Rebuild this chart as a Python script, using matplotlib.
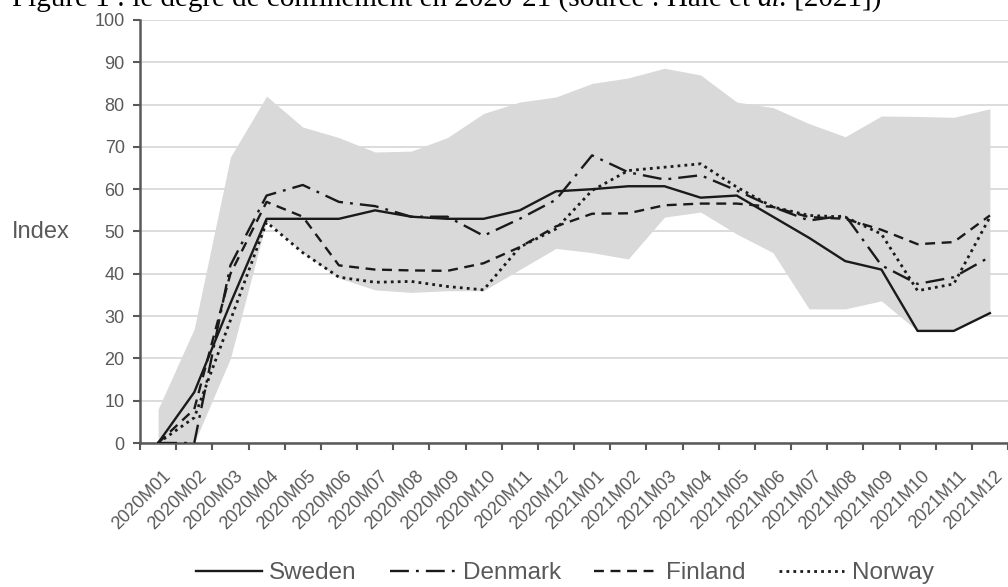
import matplotlib
matplotlib.use("Agg")
import matplotlib.pyplot as plt
from matplotlib.transforms import offset_copy

months = ["2020M01", "2020M02", "2020M03", "2020M04", "2020M05", "2020M06",
          "2020M07", "2020M08", "2020M09", "2020M10", "2020M11", "2020M12",
          "2021M01", "2021M02", "2021M03", "2021M04", "2021M05", "2021M06",
          "2021M07", "2021M08", "2021M09", "2021M10", "2021M11", "2021M12"]

sweden = [0, 12, 33, 53, 53, 53, 55, 53.5, 53, 53, 55, 59.5,
          60, 60.7, 60.7, 58, 58.5, 53.5, 48.5, 43, 41, 26.5, 26.5, 30.7]
denmark = [0, 0, 42, 58.5, 61, 57, 56, 53.5, 53.5, 49, 53, 57.5,
           68, 64, 62.3, 63.3, 59.7, 55.8, 52.6, 53.8, 42, 37.6, 39.2, 44]
finland = [0, 8, 40, 57, 53.5, 42, 41, 40.8, 40.7, 42.5, 46.3, 51.2,
           54.2, 54.3, 56.2, 56.6, 56.6, 55.8, 53.4, 53, 50.4, 47, 47.5, 53.8]
norway = [0, 6, 29, 52.2, 45, 39.2, 38, 38.2, 37, 36.2, 46.3, 50.6,
          59.7, 64.4, 65.2, 66, 60.5, 55.8, 53.8, 53.4, 49.4, 36, 37.6, 53.4]

# grey band: range across the other countries
band_hi = [8, 27, 67.6, 82, 74.7, 72.2, 68.8, 69, 72.2, 77.9, 80.6, 81.8,
           85, 86.3, 88.6, 87, 80.6, 79.3, 75.5, 72.4, 77.3, 77.2, 77, 79]
band_lo = [0, 0, 20, 52.5, 45, 39, 36.2, 35.6, 36, 36, 41, 46,
           45, 43.5, 53.4, 54.6, 49.4, 45, 31.7, 31.7, 33.6, 26.5, 26.5, 30.6]

TXT = "#595959"
LINE = "#1a1a1a"
plt.rcParams["font.family"] = ["Liberation Sans", "DejaVu Sans"]

fig = plt.figure(figsize=(10.08, 5.87), dpi=100)
ax = fig.add_axes([140 / 1008, 1 - 443 / 587, 868 / 1008, 423 / 587])

x = list(range(len(months)))
ax.fill_between(x, band_lo, band_hi, color="#d9d9d9", lw=0, zorder=1.5)

lw = 1.7
ax.plot(x, sweden, color=LINE, lw=lw, ls="-", label="Sweden", zorder=3)
ax.plot(x, denmark, color=LINE, lw=lw, ls=(0, (8, 3, 1.2, 3)), label="Denmark", zorder=3)
ax.plot(x, finland, color=LINE, lw=lw, ls=(0, (4.2, 2.8)), label="Finland", zorder=3)
ax.plot(x, norway, color=LINE, lw=lw + 0.3, ls=(0, (1, 1.5)), label="Norway", zorder=3)

ax.set_xlim(-0.5, len(months) - 0.5)
ax.set_ylim(0, 100)
ax.set_yticks(range(0, 101, 10))
ax.yaxis.grid(True, color="#d9d9d9", lw=1.3)
ax.set_axisbelow(True)

ax.set_xticks(x)
ax.set_xticklabels(months, rotation=45, ha="right", va="center",
                   rotation_mode="anchor")
ax.set_xticks([i - 0.5 for i in range(len(months) + 1)], minor=True)
ax.tick_params(axis="x", which="major", length=0, pad=22, labelsize=13, labelcolor=TXT)
ax.tick_params(axis="x", which="minor", length=5, width=1.5, color="#595959", direction="out")
ax.tick_params(axis="y", length=5, width=1.5, color="#595959", labelsize=13,
               labelcolor=TXT, pad=6)
for lab in ax.get_xticklabels():
    lab.set_transform(offset_copy(lab.get_transform(), fig=fig, x=10, y=0, units="dots"))

for s in ("top", "right"):
    ax.spines[s].set_visible(False)
for s in ("left", "bottom"):
    ax.spines[s].set_color("#595959")
    ax.spines[s].set_linewidth(1.8)

ax.set_ylabel("Index", rotation=0, ha="left", va="center", fontsize=17, color=TXT)
ax.yaxis.set_label_coords(-128 / 868, 0.5)

fig.legend(loc="center", bbox_to_anchor=(565 / 1008, 1 - 573 / 587), ncol=4,
           frameon=False, fontsize=17.5, labelcolor=TXT, handlelength=2.7,
           handletextpad=0.3, columnspacing=1.35)

# title, clipped at the top edge as in the source
renderer = fig.canvas.get_renderer()
parts = [("Figure 1 : le degré de confinement en 2020-21 (source : Hale et ", "normal"),
         ("al.", "italic"), (" [2021])", "normal")]
xpos = 12
for txt, style in parts:
    t = fig.text(xpos / 1008, 1 - 6 / 587, txt, fontsize=21, style=style,
                 family="Liberation Serif", va="baseline", ha="left", color="black")
    xpos += t.get_window_extent(renderer).width

fig.savefig("out.png", dpi=100)
